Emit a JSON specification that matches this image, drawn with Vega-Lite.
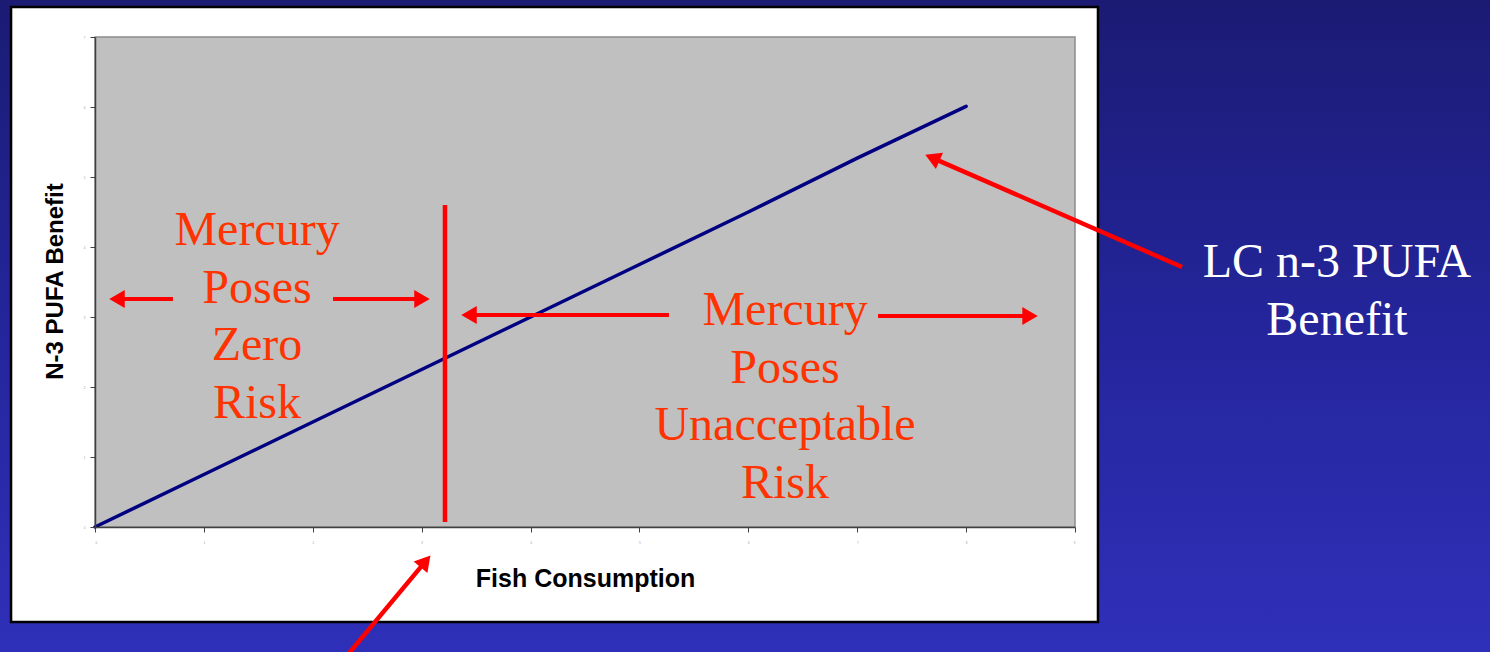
{
  "$schema": "https://vega.github.io/schema/vega-lite/v6.json",
  "width": 980,
  "height": 490,
  "autosize": "none",
  "padding": {"left": 95, "top": 37, "right": 415, "bottom": 125},
  "background": "#23249a",
  "config": {
    "view": {"stroke": null}
  },
  "encoding": {
    "x": {
      "field": "x",
      "type": "quantitative",
      "scale": {"domain": [0, 9], "nice": false, "zero": false},
      "axis": {
        "zindex": 1,
        "grid": false,
        "title": "Fish Consumption",
        "values": [0, 1, 2, 3, 4, 5, 6, 7, 8, 9],
        "domainColor": "#404040",
        "domainWidth": 1.5,
        "tickColor": "#404040",
        "tickSize": 5,
        "labelFontSize": 3,
        "labelColor": "#999999",
        "labelPadding": 9,
        "titleFont": "Liberation Sans",
        "titleFontWeight": "bold",
        "titleFontSize": 25,
        "titleColor": "#000000",
        "titleBaseline": "alphabetic",
        "titleAnchor": "middle",
        "titleX": 490,
        "titleY": 59
      }
    },
    "y": {
      "field": "y",
      "type": "quantitative",
      "scale": {"domain": [0, 7], "nice": false, "zero": false},
      "axis": {
        "zindex": 1,
        "grid": false,
        "title": "N-3 PUFA Benefit",
        "values": [0, 1, 2, 3, 4, 5, 6, 7],
        "domainColor": "#404040",
        "domainWidth": 1.5,
        "tickColor": "#404040",
        "tickSize": 5,
        "labelFontSize": 3,
        "labelColor": "#999999",
        "labelPadding": 5,
        "titleFont": "Liberation Sans",
        "titleFontWeight": "bold",
        "titleFontSize": 24,
        "titleColor": "#000000",
        "titleBaseline": "alphabetic",
        "titleAngle": -90,
        "titleAlign": "center",
        "titleX": -33,
        "titleY": 244
      }
    }
  },
  "layer": [
    {
      "data": {"values": [{"x": -0.8724, "x2": 12.811, "y": -1.786, "y2": 7.529}]},
      "mark": {
        "type": "rect",
        "fill": {
          "gradient": "linear", "x1": 0, "y1": 0, "x2": 0, "y2": 1,
          "stops": [
            {"offset": 0, "color": "#1b1b74"},
            {"offset": 0.5, "color": "#24259b"},
            {"offset": 1, "color": "#2f30b9"}
          ]
        }
      },
      "encoding": {
        "x2": {"field": "x2"},
        "y2": {"field": "y2"}
      }
    },
    {
      "data": {"values": [{"x": -0.771, "x2": 9.211, "y": -1.357, "y2": 7.429}]},
      "mark": {"type": "rect", "fill": "#ffffff", "stroke": "#000000", "strokeWidth": 2.5},
      "encoding": {
        "x2": {"field": "x2"},
        "y2": {"field": "y2"}
      }
    },
    {
      "data": {"values": [{"x": 0, "x2": 9, "y": 0, "y2": 7}]},
      "mark": {"type": "rect", "fill": "#c0c0c0", "stroke": "#8c8c8c", "strokeWidth": 1.5},
      "encoding": {
        "x2": {"field": "x2"},
        "y2": {"field": "y2"}
      }
    },
    {
      "data": {"values": [
        {"x": 0, "y": 0},
        {"x": 1, "y": 0.75},
        {"x": 2, "y": 1.5},
        {"x": 3, "y": 2.25},
        {"x": 4, "y": 3.0},
        {"x": 5, "y": 3.75},
        {"x": 6, "y": 4.5},
        {"x": 7, "y": 5.27},
        {"x": 8, "y": 6.01}
      ]},
      "mark": {"type": "line", "color": "#000080", "strokeWidth": 3.5, "strokeCap": "round"},
      "encoding": {}
    },
    {
      "data": {"values": [
        {"x": 3.214, "y": 0.071, "x2": 3.214, "y2": 4.6, "w": 4.5},
        {"x": 0.716, "y": 3.257, "x2": 0.211, "y2": 3.257, "w": 4},
        {"x": 2.186, "y": 3.257, "x2": 3.003, "y2": 3.257, "w": 4},
        {"x": 5.271, "y": 3.029, "x2": 3.435, "y2": 3.029, "w": 4},
        {"x": 7.191, "y": 3.014, "x2": 8.587, "y2": 3.014, "w": 4},
        {"x": 9.983, "y": 3.714, "x2": 7.69, "y2": 5.274, "w": 4.5},
        {"x": 2.296, "y": -1.871, "x2": 3.035, "y2": -0.491, "w": 4.5}
      ]},
      "mark": {"type": "rule", "color": "#ff0000", "strokeCap": "butt"},
      "encoding": {
        "x2": {"field": "x2"},
        "y2": {"field": "y2"},
        "strokeWidth": {"field": "w", "type": "quantitative", "scale": null}
      }
    },
    {
      "data": {"values": [
        {"x": 0.202, "y": 3.257, "ang": 270},
        {"x": 3.003, "y": 3.257, "ang": 90},
        {"x": 3.435, "y": 3.029, "ang": 270},
        {"x": 8.587, "y": 3.014, "ang": 90},
        {"x": 7.69, "y": 5.274, "ang": 293.6},
        {"x": 3.035, "y": -0.491, "ang": 39.8}
      ]},
      "mark": {"type": "point", "shape": "triangle-up", "filled": true, "color": "#ff0000", "opacity": 1, "size": 320, "strokeWidth": 0},
      "encoding": {
        "angle": {"field": "ang", "type": "quantitative", "scale": null}
      }
    },
    {
      "data": {"values": [
        {"x": 1.488, "y": 4.029, "t": "Mercury"},
        {"x": 1.488, "y": 3.2, "t": "Poses"},
        {"x": 1.488, "y": 2.386, "t": "Zero"},
        {"x": 1.488, "y": 1.557, "t": "Risk"},
        {"x": 6.337, "y": 2.886, "t": "Mercury"},
        {"x": 6.337, "y": 2.057, "t": "Poses"},
        {"x": 6.337, "y": 1.243, "t": "Unacceptable"},
        {"x": 6.337, "y": 0.414, "t": "Risk"}
      ]},
      "mark": {"type": "text", "font": "Liberation Serif", "fontSize": 48, "color": "#ff3300", "align": "center", "baseline": "alphabetic"},
      "encoding": {
        "text": {"field": "t"}
      }
    },
    {
      "data": {"values": [
        {"x": 11.406, "y": 3.571, "t": "LC n-3 PUFA"},
        {"x": 11.406, "y": 2.743, "t": "Benefit"}
      ]},
      "mark": {"type": "text", "font": "Liberation Serif", "fontSize": 48, "color": "#ffffff", "align": "center", "baseline": "alphabetic"},
      "encoding": {
        "text": {"field": "t"}
      }
    }
  ]
}
